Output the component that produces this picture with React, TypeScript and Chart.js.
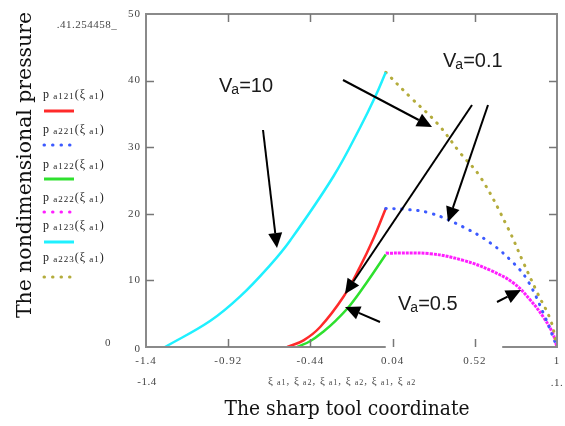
import React, { useEffect, useRef } from "react";
import { Chart, registerables } from "chart.js";
Chart.register(...registerables);

const xTicks = [-1.4, -0.92, -0.44, 0.04, 0.52, 1];
const yTicks = [0, 10, 20, 30, 40, 50];

// p_a121 (red, solid)
const redX = [-0.575, -0.48, -0.383, -0.248, -0.149, -0.073, 0.0];
const redY = [0, 1.0, 3.0, 7.5, 12.1, 16.2, 20.8];
// p_a221 (blue, dotted)
const blueX = [0.0, 0.1, 0.26, 0.454, 0.612, 0.746, 0.828, 0.92, 1.0];
const blueY = [20.8, 20.7, 20.1, 18.0, 15.6, 12.6, 10.0, 5.1, 0];
// p_a122 (green, solid)
const greenX = [-0.517, -0.44, -0.365, -0.29, -0.207, -0.108, 0.0];
const greenY = [0, 0.9, 2.3, 4.0, 6.3, 9.8, 13.9];
// p_a222 (magenta, dense dots)
const magX = [0.0, 0.26, 0.454, 0.612, 0.746, 0.846, 0.92, 0.974, 1.0];
const magY = [14.1, 14.0, 13.0, 11.5, 9.6, 7.0, 4.5, 2.1, 0];
// p_a123 (cyan, solid)
const cyanX = [-1.289, -1.026, -0.85, -0.675, -0.558, -0.306, -0.149, -0.061, 0.0];
const cyanY = [0, 3.9, 7.6, 12.3, 16.0, 25.6, 33.0, 37.6, 41.25];
// p_a223 (olive, dotted)
const oliveX = [0.0, 0.144, 0.3, 0.436, 0.553, 0.711, 0.805, 0.886, 0.963, 1.0];
const oliveY = [41.25, 37.5, 33.6, 29.1, 25.5, 18.0, 12.6, 8.1, 4.0, 0];

const legendNames = ["a121", "a221", "a122", "a222", "a123", "a223"];
const topLabel = "41.254458";

const C_RED = "#ff2a2a";
const C_BLUE = "#3c5aff";
const C_GREEN = "#2ee02e";
const C_MAG = "#ff1eff";
const C_CYAN = "#1ff0ff";
const C_OLIVE = "#b4ac3c";

const mk = (xs: number[], ys: number[]) => xs.map((x, i) => ({ x, y: ys[i] }));

function arrow(ctx: CanvasRenderingContext2D, x1: number, y1: number, x2: number, y2: number, hl = 15, hw = 7) {
  const a = Math.atan2(y2 - y1, x2 - x1);
  const bx = x2 - hl * Math.cos(a);
  const by = y2 - hl * Math.sin(a);
  ctx.save();
  ctx.strokeStyle = "#000";
  ctx.fillStyle = "#000";
  ctx.lineWidth = 2;
  ctx.beginPath();
  ctx.moveTo(x1, y1);
  ctx.lineTo(bx, by);
  ctx.stroke();
  ctx.beginPath();
  ctx.moveTo(x2, y2);
  ctx.lineTo(bx + hw * Math.sin(a), by - hw * Math.cos(a));
  ctx.lineTo(bx - hw * Math.sin(a), by + hw * Math.cos(a));
  ctx.closePath();
  ctx.fill();
  ctx.restore();
}

function vaLabel(ctx: CanvasRenderingContext2D, x: number, y: number, val: string) {
  ctx.save();
  ctx.fillStyle = "#1a1a1a";
  ctx.textBaseline = "alphabetic";
  ctx.textAlign = "left";
  ctx.font = '20px "Liberation Sans", Arial, sans-serif';
  ctx.fillText("V", x, y);
  let w = ctx.measureText("V").width;
  ctx.font = '14px "Liberation Sans", Arial, sans-serif';
  ctx.fillText("a", x + w - 1, y + 2);
  w += ctx.measureText("a").width - 1;
  ctx.font = '20px "Liberation Sans", Arial, sans-serif';
  ctx.fillText("=" + val, x + w, y);
  ctx.restore();
}

function subText(ctx: CanvasRenderingContext2D, x: number, y: number, parts: [string, boolean][], big = 12, small = 9, spacing = 1) {
  let cx = x;
  (ctx as any).letterSpacing = `${spacing}px`;
  for (const [t, sub] of parts) {
    ctx.font = `${sub ? small : big}px "Liberation Serif", serif`;
    ctx.fillText(t, cx, sub ? y + 2 : y);
    cx += ctx.measureText(t).width;
  }
  (ctx as any).letterSpacing = "0px";
}

function fitText(ctx: CanvasRenderingContext2D, text: string, cx: number, y: number, width: number, font: string) {
  ctx.font = font;
  const w = ctx.measureText(text).width;
  ctx.save();
  ctx.translate(cx, y);
  ctx.scale(width / w, 1);
  ctx.textAlign = "center";
  ctx.fillText(text, 0, 0);
  ctx.restore();
}

const overlay = {
  id: "overlay",
  afterDraw(chart: any) {
    const ctx: CanvasRenderingContext2D = chart.ctx;
    const xs = chart.scales.x;
    const ys = chart.scales.y;
    const { left, right, top, bottom } = chart.chartArea;
    const px = (v: number) => xs.getPixelForValue(v);
    const py = (v: number) => ys.getPixelForValue(v);

    // frame
    ctx.save();
    ctx.strokeStyle = "#8a8a8a";
    ctx.lineWidth = 2;
    ctx.beginPath();
    ctx.moveTo(left, bottom);
    ctx.lineTo(left, top);
    ctx.lineTo(right, top);
    ctx.lineTo(right, bottom);
    ctx.stroke();
    ctx.beginPath();
    ctx.moveTo(left - 1, bottom);
    ctx.lineTo(px(0.0), bottom);
    ctx.moveTo(px(0.68), bottom);
    ctx.lineTo(right + 1, bottom);
    ctx.stroke();
    ctx.lineWidth = 1.5;
    ctx.strokeStyle = "#777";
    ctx.beginPath();
    for (const v of xTicks.slice(1, -1)) {
      const x = Math.round(px(v)) + 0.5;
      ctx.moveTo(x, bottom);
      ctx.lineTo(x, bottom - 8);
      ctx.moveTo(x, top);
      ctx.lineTo(x, top + 8);
    }
    for (const v of yTicks.slice(1, -1)) {
      const y = Math.round(py(v)) + 0.5;
      ctx.moveTo(left, y);
      ctx.lineTo(left + 8, y);
      ctx.moveTo(right, y);
      ctx.lineTo(right - 8, y);
    }
    ctx.stroke();

    // tick labels
    ctx.fillStyle = "#444";
    ctx.font = '11px "Liberation Serif", serif';
    (ctx as any).letterSpacing = "1px";
    ctx.textBaseline = "middle";
    ctx.textAlign = "center";
    for (const v of xTicks) ctx.fillText(String(v), px(v), 361);
    ctx.textAlign = "right";
    for (const v of yTicks) ctx.fillText(String(v), left - 5, py(v) + (v === 0 ? 2 : 0));
    ctx.restore();

    // arrows
    arrow(ctx, 263, 130, 277, 248);
    arrow(ctx, 343, 80, 432, 127);
    arrow(ctx, 472, 105, 345, 294);
    arrow(ctx, 488, 105, 448, 222);
    arrow(ctx, 380, 322, 345, 307);
    arrow(ctx, 497, 302, 521, 290);

    vaLabel(ctx, 219, 92, "10");
    vaLabel(ctx, 443, 67, "0.1");
    vaLabel(ctx, 398, 310, "0.5");

    // legend
    ctx.save();
    ctx.textBaseline = "middle";
    ctx.textAlign = "left";
    const textY = [95, 130, 165, 198, 226, 258];
    const lineY = [111, 145, 179, 212, 242, 277];
    const cols = [C_RED, C_BLUE, C_GREEN, C_MAG, C_CYAN, C_OLIVE];
    const dotted = [false, true, false, true, false, true];
    legendNames.forEach((n, i) => {
      ctx.fillStyle = "#222";
      subText(ctx, 43, textY[i], [["p", false], [" " + n, true], ["(ξ", false], [" a1", true], [")", false]]);
      ctx.strokeStyle = cols[i];
      ctx.lineWidth = 3;
      ctx.lineCap = dotted[i] ? "round" : "butt";
      ctx.setLineDash(dotted[i] ? [0.5, 8] : []);
      ctx.beginPath();
      ctx.moveTo(44, lineY[i]);
      ctx.lineTo(74, lineY[i]);
      ctx.stroke();
    });
    ctx.setLineDash([]);

    // extra labels
    ctx.fillStyle = "#444";
    ctx.font = '11px "Liberation Serif", serif';
    (ctx as any).letterSpacing = "0.5px";
    ctx.textAlign = "center";
    ctx.fillText("." + topLabel + "_", 87, 25);
    ctx.fillText("0", 108, 343);
    ctx.fillText("-1.4", 147, 382);
    ctx.fillText(".1.", 557, 383);
    ctx.textAlign = "left";
    const xi: [string, boolean][] = [];
    ["a1", "a2", "a1", "a2", "a1", "a2"].forEach((s, i) => {
      xi.push(["ξ", false]);
      xi.push([" " + s, true]);
      if (i < 5) xi.push([", ", false]);
    });
    subText(ctx, 268, 381, xi, 11, 8, 1);

    // titles
    ctx.fillStyle = "#111";
    ctx.textBaseline = "alphabetic";
    fitText(ctx, "The sharp tool coordinate", 347, 415, 245, '20px "DejaVu Serif", serif');
    ctx.save();
    ctx.translate(31, 165);
    ctx.rotate(-Math.PI / 2);
    fitText(ctx, "The nondimensional pressure", 0, 0, 306, '21px "DejaVu Serif", serif');
    ctx.restore();
    ctx.restore();
  },
};

export default function App() {
  const ref = useRef<HTMLCanvasElement>(null);
  useEffect(() => {
    document.body.style.margin = "0";
    const ds = (data: any, color: string, opts: any = {}) => ({
      data,
      borderColor: color,
      backgroundColor: color,
      showLine: true,
      pointRadius: 0,
      borderWidth: 2.5,
      tension: 0.4,
      ...opts,
    });
    const dots = { borderDash: [0.5, 7.5], borderCapStyle: "round", borderWidth: 3 };
    const chart = new Chart(ref.current!, {
      type: "scatter",
      data: {
        datasets: [
          ds(mk(cyanX, cyanY), C_CYAN),
          ds(mk(oliveX, oliveY), C_OLIVE, dots),
          ds(mk(blueX, blueY), C_BLUE, dots),
          ds(mk(magX, magY), C_MAG, { borderDash: [3, 1], borderWidth: 3 }),
          ds(mk(greenX, greenY), C_GREEN),
          ds(mk(redX, redY), C_RED),
        ],
      } as any,
      options: {
        animation: false,
        responsive: false,
        maintainAspectRatio: false,
        layout: { padding: { left: 0, right: 8, top: 14, bottom: 0 } },
        plugins: { legend: { display: false }, tooltip: { enabled: false } },
        scales: {
          x: {
            type: "linear",
            min: -1.4,
            max: 1,
            afterFit: (s: any) => {
              s.height = 79;
            },
            grid: { display: false, drawTicks: false },
            border: { display: false },
            ticks: { display: false },
          },
          y: {
            type: "linear",
            min: 0,
            max: 50,
            afterFit: (s: any) => {
              s.width = 146;
            },
            grid: { display: false, drawTicks: false },
            border: { display: false },
            ticks: { display: false },
          },
        },
      } as any,
      plugins: [overlay],
    });
    return () => chart.destroy();
  }, []);
  return (
    <div style={{ position: "fixed", left: 0, top: 0, width: 565, height: 426, background: "#fff" }}>
      <canvas ref={ref} width={565} height={426} style={{ width: 565, height: 426, display: "block" }} />
    </div>
  );
}
